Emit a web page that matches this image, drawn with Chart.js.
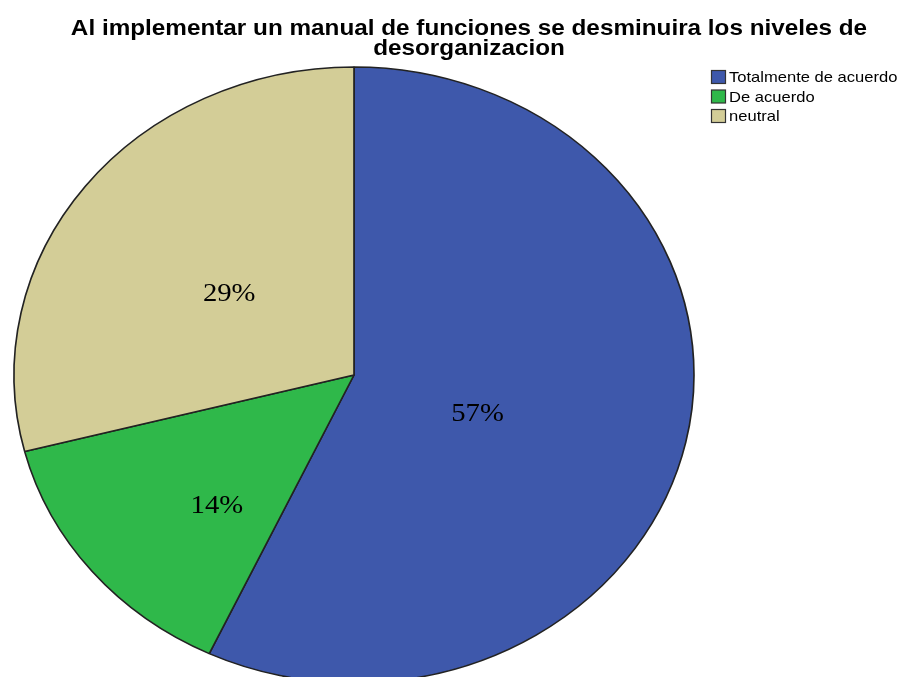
<!DOCTYPE html>
<html>
<head>
<meta charset="utf-8">
<script src="https://cdn.jsdelivr.net/npm/chart.js@4"></script>
<style>
  html, body { margin: 0; padding: 0; background: #fff; overflow: hidden; }
  canvas { display: block; }
</style>
</head>
<body>
<canvas id="myChart" width="900" height="677"></canvas>
<script>
const titleLines = ['Al implementar un manual de funciones se desminuira los niveles de', 'desorganizacion'];
const categories = ['Totalmente de acuerdo', 'De acuerdo', 'neutral'];
const percentages = [57, 14, 29];
const colors = ['#3e58ab', '#2fb84a', '#d3cd97'];

// the SPSS export is stretched a bit horizontally (pie and text alike)
const X_STRETCH = 340 / 308;

function wideText(ctx, text, x, y)
{
    ctx.save();
    ctx.translate(x, y);
    ctx.scale(X_STRETCH, 1);
    ctx.fillText(text, 0, 0);
    ctx.restore();
}

const stretchPie = {
    id: 'stretchPie',
    beforeDatasetsDraw(chart)
    {
        const arc = chart.getDatasetMeta(0).data[0];
        const ctx = chart.ctx;
        ctx.save();
        ctx.translate(arc.x, 0);
        ctx.scale(X_STRETCH, 1);
        ctx.translate(-arc.x, 0);
    },
    afterDatasetsDraw(chart)
    {
        const ctx = chart.ctx;
        ctx.restore();
        const values = chart.data.datasets[0].data;
        const total = values.reduce((a, b) => a + b, 0);
        ctx.save();
        ctx.font = '26px "Liberation Serif"';
        ctx.fillStyle = '#000';
        ctx.textAlign = 'center';
        ctx.textBaseline = 'middle';
        chart.getDatasetMeta(0).data.forEach((arc, i) =>
        {
            const p = arc.getProps(['x', 'y', 'startAngle', 'endAngle', 'outerRadius'], true);
            const a = p.endAngle - p.startAngle;
            const mid = (p.startAngle + p.endAngle) / 2;
            // roughly the centroid of the slice, nudged like SPSS does
            const d = 0.9 * 4 * p.outerRadius * Math.sin(a / 2) / (3 * a);
            const x = p.x + Math.cos(mid) * d * X_STRETCH + 15;
            const y = p.y + Math.sin(mid) * d + 17;
            wideText(ctx, Math.round(values[i] / total * 100) + '%', x, y);
        });
        ctx.restore();
    },
    afterDraw(chart)
    {
        const ctx = chart.ctx;
        ctx.save();
        ctx.fillStyle = '#000';
        ctx.textAlign = 'center';
        ctx.textBaseline = 'alphabetic';
        ctx.font = 'bold 22px "Liberation Sans"';
        titleLines.forEach((line, i) => wideText(ctx, line, 469, 35 + i * 20));

        ctx.textAlign = 'left';
        ctx.textBaseline = 'middle';
        ctx.font = '15px "Liberation Sans"';
        chart.data.labels.forEach((label, i) =>
        {
            const y = 77 + i * 19.5;
            ctx.fillStyle = chart.data.datasets[0].backgroundColor[i];
            ctx.fillRect(711.5, y - 6.5, 14, 13);
            ctx.strokeStyle = '#333';
            ctx.lineWidth = 1.2;
            ctx.strokeRect(711.5, y - 6.5, 14, 13);
            ctx.fillStyle = '#000';
            wideText(ctx, label, 729, y + 1);
        });
        ctx.restore();
    }
};

const ctx = document.getElementById('myChart').getContext('2d');
const myChart = new Chart(ctx, {
    type: 'pie',
    data: {
        labels: categories,
        datasets: [{
            data: percentages,
            backgroundColor: colors,
            borderColor: '#222',
            borderWidth: 1.5,
            clip: false
        }]
    },
    options: {
        responsive: false,
        animation: false,
        radius: 308,
        layout: {
            padding: { left: 0, right: 192, top: 74, bottom: 1 }
        },
        plugins: {
            legend: { display: false },
            title: { display: false },
            tooltip: { enabled: false }
        }
    },
    plugins: [stretchPie]
});
</script>
</body>
</html>
